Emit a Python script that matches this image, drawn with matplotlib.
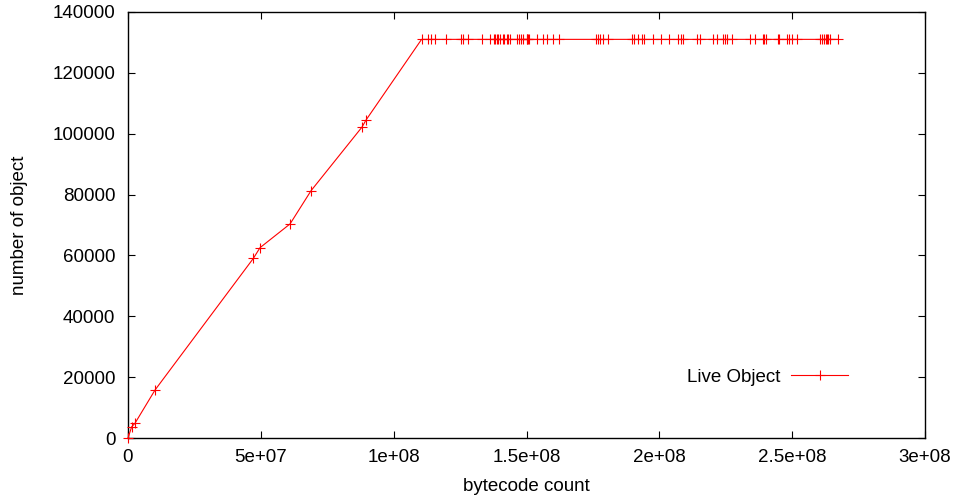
import matplotlib.pyplot as plt
from matplotlib.ticker import FixedLocator, FixedFormatter

plt.rcParams['font.family'] = ['Liberation Sans', 'DejaVu Sans']

# ramp-up part (bytecode count, live objects)
ramp_x = [0, 1.4e6, 2.6e6, 1.02e7, 4.72e7, 4.97e7, 6.1e7, 6.89e7, 8.81e7, 8.96e7]
ramp_y = [0, 3700, 4800, 15800, 59050, 62550, 70350, 81270, 102200, 104500]

# plateau samples (x in millions of bytecodes)
plateau_x_m = [110.5, 112.8, 113.9, 115.6, 119.7, 125.2, 126.2, 128.1, 133.1, 136.3,
               137.8, 138.3, 138.8, 139.4, 140.0, 141.0, 141.5, 142.5, 143.1, 143.8,
               146.5, 147.2, 147.8, 148.8, 150.1, 150.3, 150.7, 151.1, 153.8, 156.3,
               157.6, 159.9, 162.2, 176.2, 177.0, 177.7, 178.7, 180.8, 189.6, 190.6,
               192.1, 193.4, 194.3, 197.7, 200.6, 203.6, 207.1, 208.1, 208.8, 214.3,
               215.3, 220.1, 221.6, 224.1, 224.7, 225.4, 227.2, 234.1, 236.0, 238.9,
               239.4, 240.0, 244.8, 245.2, 247.9, 248.8, 249.8, 251.9, 260.5, 261.1,
               262.0, 262.6, 263.0, 263.6, 264.2, 267.4]
plateau_y = 131000

x = ramp_x + [v * 1e6 for v in plateau_x_m]
y = ramp_y + [plateau_y] * len(plateau_x_m)

xticks = [0, 5e7, 1e8, 1.5e8, 2e8, 2.5e8, 3e8]
xlabels = ['0', '5e+07', '1e+08', '1.5e+08', '2e+08', '2.5e+08', '3e+08']
yticks = [0, 20000, 40000, 60000, 80000, 100000, 120000, 140000]

fig = plt.figure(figsize=(9.58, 4.97), dpi=100)
ax = fig.add_axes([0.1336, 0.1187, 0.832, 0.8572])

ax.plot(x, y, color='#ff0000', lw=0.8, marker='+', ms=7, mew=0.8,
        label='Live Object', clip_on=False, zorder=3)

ax.set_xlim(0, 3e8)
ax.set_ylim(0, 140000)
ax.xaxis.set_major_locator(FixedLocator(xticks))
ax.xaxis.set_major_formatter(FixedFormatter(xlabels))
ax.set_yticks(yticks)
ax.set_yticklabels([str(v) for v in yticks])
ax.tick_params(direction='in', top=True, right=True, length=5, width=0.8,
               labelsize=13.5, colors='black')
ax.tick_params(axis='y', pad=9)
ax.tick_params(axis='x', pad=8)
for s in ax.spines.values():
    s.set_linewidth(1.0)

ax.set_xlabel('bytecode count', fontsize=13.5)
ax.set_ylabel('number of object', fontsize=13.5)
ax.xaxis.set_label_coords(0.5, -0.094)
ax.yaxis.set_label_coords(-0.126, 0.5)

ax.legend(loc='center right', bbox_to_anchor=(0.903, 0.143), frameon=False,
          markerfirst=False, handlelength=3.0, handletextpad=0.6, fontsize=13.5,
          numpoints=1, borderaxespad=0, borderpad=0)

fig.savefig('out.png', dpi=100)
